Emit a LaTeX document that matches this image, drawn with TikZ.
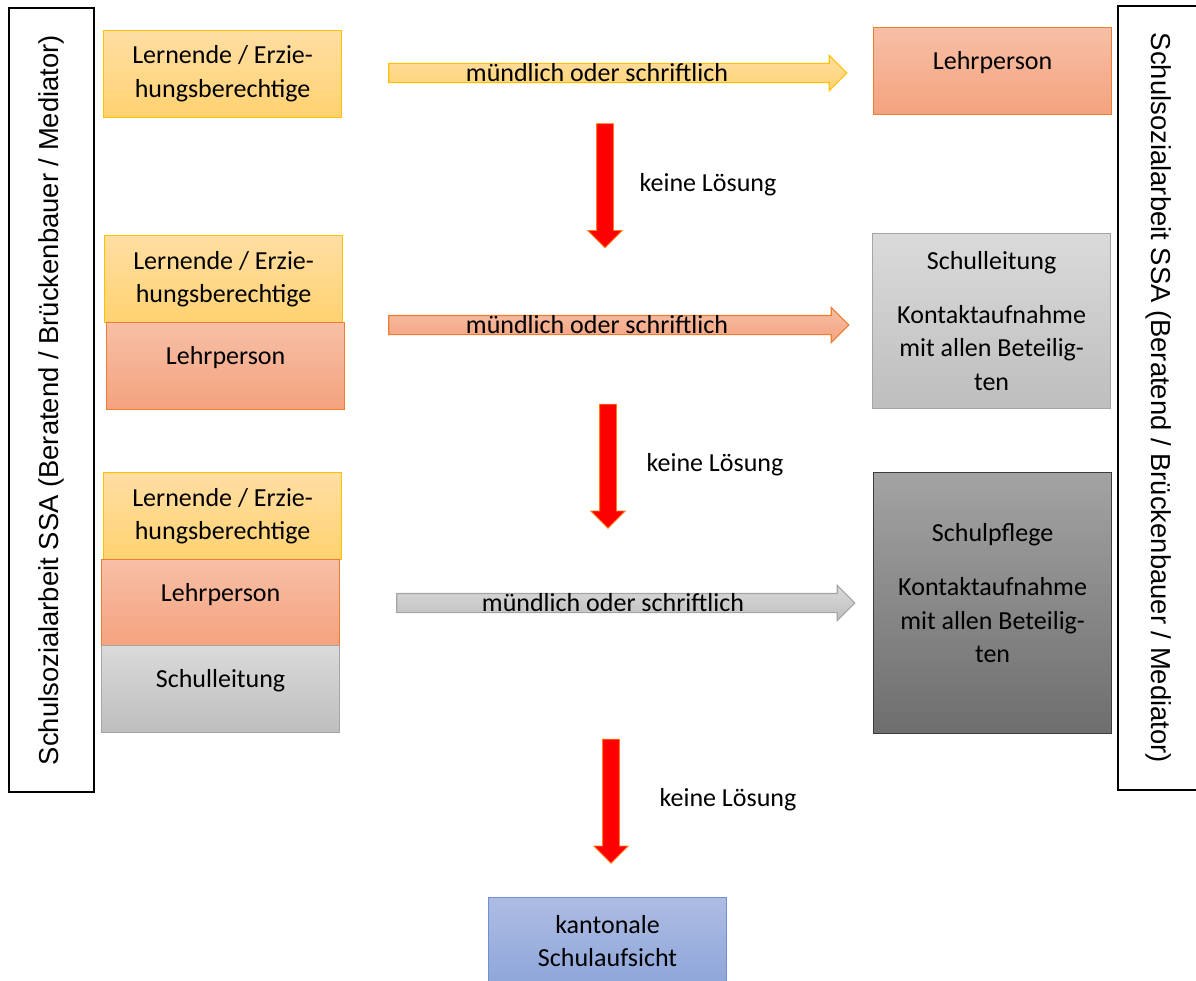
\documentclass[tikz,border=0pt]{standalone}
\usepackage{fontspec}
\setmainfont{Carlito}
\newfontfamily\ssafont{Liberation Sans}
\usetikzlibrary{shapes.arrows}

\definecolor{gelbrand}{HTML}{FFC000}
\definecolor{gelboben}{HTML}{FFDEA3}
\definecolor{gelbunten}{HTML}{FFD270}
\definecolor{orangerand}{HTML}{ED7D31}
\definecolor{orangeoben}{HTML}{F7BFA6}
\definecolor{orangeunten}{HTML}{F4A27E}
\definecolor{grauerand}{HTML}{A5A5A5}
\definecolor{grauoben}{HTML}{DADADA}
\definecolor{grauunten}{HTML}{BEBEBE}
\definecolor{dunkelrand}{HTML}{3C3C3C}
\definecolor{dunkeloben}{HTML}{A3A3A3}
\definecolor{dunkelunten}{HTML}{6E6E6E}
\definecolor{blaurand}{HTML}{6F8FD4}
\definecolor{blauoben}{HTML}{AEBCE3}
\definecolor{blauunten}{HTML}{8EA6DA}
\definecolor{rotrand}{HTML}{FF7A1A}

\begin{document}
\begin{tikzpicture}[
		x=0.025cm, y=-0.025cm,
		font=\fontsize{18.5}{24}\selectfont,
		box/.style={rectangle, anchor=north west, align=center, inner sep=0pt,
				minimum width=5.95cm, minimum height=2.175cm, line width=0.8pt},
		lernende/.style={box, draw=gelbrand, top color=gelboben, bottom color=gelbunten},
		lehrer/.style={box, draw=orangerand, top color=orangeoben, bottom color=orangeunten, text depth=0.52cm},
		leitung/.style={box, draw=grauerand, top color=grauoben, bottom color=grauunten},
		pflege/.style={box, draw=dunkelrand, top color=dunkeloben, bottom color=dunkelunten},
		aufsicht/.style={box, draw=blaurand, top color=blauoben, bottom color=blauunten},
		weg/.style={single arrow, minimum height=11.45cm, inner xsep=0pt, inner ysep=0.225cm,
				single arrow head extend=0.2cm, line width=0.8pt},
		nein/.style={single arrow, rotate=-90, minimum height=3.1cm, inner xsep=0pt, inner ysep=0.2cm,
				single arrow head extend=0.22cm, fill=red, draw=rotrand, line width=0.6pt},
		ssa/.style={draw, line width=1.2pt, fill=white, inner sep=0pt, minimum width=19.6cm,
				font=\ssafont\fontsize{19.5}{20}\selectfont}
	]
	\useasboundingbox (0,0) rectangle (1196,980);

	\node[ssa, rotate=90, minimum height=2.125cm] (ssalinks) at (51.5,400)
	{Schulsozialarbeit SSA (Beratend / Brückenbauer / Mediator)};
	\node[ssa, rotate=-90, minimum height=2.05cm] (ssarechts) at (1159,398)
	{Schulsozialarbeit SSA (Beratend / Brückenbauer / Mediator)};

	\node[lernende] (lern1) at (103,30) {Lernende / Erzie-\\hungsberechtige};
	\node[lehrer] (lehr1) at (873,27) {Lehrperson};
	\node[weg, draw=gelbrand, top color=gelboben, bottom color=gelbunten] (weg1) at (613,73) {};
	\node (txt1) at (597,73) {mündlich oder schriftlich};
	\node[nein] (nein1) at (605,181.5) {};
	\node (kl1) at (708,185) {keine Lösung};

	\node[lernende] (lern2) at (104,235) {Lernende / Erzie-\\hungsberechtige};
	\node[lehrer] (lehr2) at (106,322) {Lehrperson};
	\node[leitung, minimum height=4.375cm] (leit2) at (872,233)
	{Schulleitung\\[0.5cm]Kontaktaufnahme\\mit allen Beteilig-\\ten};
	\node[weg, minimum height=11.5cm, draw=orangerand, top color=orangeoben, bottom color=orangeunten] (weg2) at (614,325) {};
	\node (txt2) at (597,325) {mündlich oder schriftlich};
	\node[nein] (nein2) at (608,462) {};
	\node (kl2) at (715,465) {keine Lösung};

	\node[lernende] (lern3) at (103,472) {Lernende / Erzie-\\hungsberechtige};
	\node[lehrer] (lehr3) at (101,559) {Lehrperson};
	\node[leitung, text depth=0.52cm] (leit3) at (101,645) {Schulleitung};
	\node[pflege, minimum height=6.525cm, text depth=0.5cm] (pfl3) at (873,472)
	{Schulpflege\\[0.5cm]Kontaktaufnahme\\mit allen Beteilig-\\ten};
	\node[weg, draw=grauerand, top color=grauoben, bottom color=grauunten] (weg3) at (621,603) {};
	\node (txt3) at (613,603) {mündlich oder schriftlich};
	\node[nein] (nein3) at (611,797) {};
	\node (kl3) at (728,800) {keine Lösung};

	\node[aufsicht] (kanton) at (488,897) {kantonale\\Schulaufsicht};
\end{tikzpicture}
\end{document}
